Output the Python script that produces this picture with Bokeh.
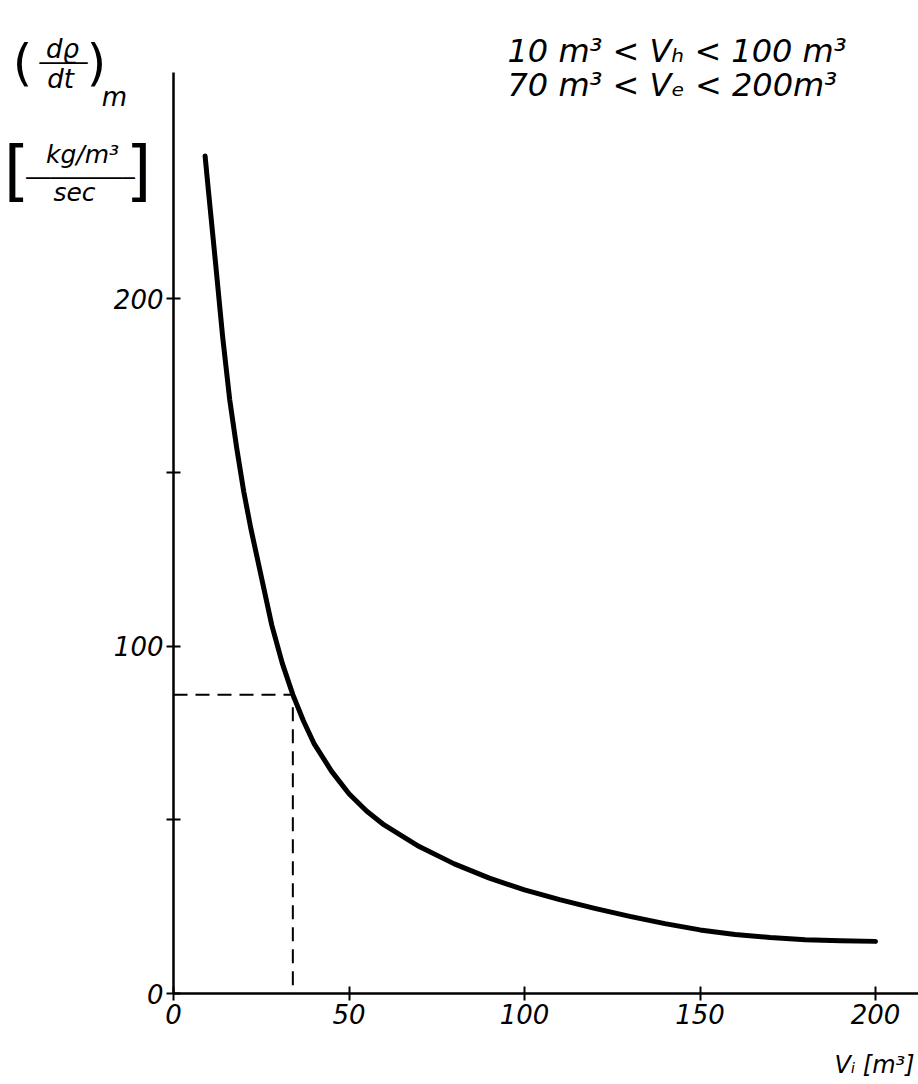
from bokeh.plotting import figure
from bokeh.models import Range1d, FixedTicker, Label, LinearAxis
from bokeh.embed import file_html
from bokeh.resources import INLINE

# ---- data ----
vi = [9, 10, 12, 14, 16, 18, 20, 22, 25, 28, 31, 34, 37, 40, 45, 50, 55, 60, 70, 80,
      90, 100, 110, 120, 130, 140, 150, 160, 170, 180, 190, 200]
drho = [241, 230.5, 210, 189, 171, 157, 144.5, 134, 120, 106, 95, 86, 78.5, 72, 64, 57.5,
        52.5, 48.5, 42.3, 37.3, 33.2, 29.8, 27, 24.5, 22.2, 20.1, 18.3, 17, 16.1, 15.5,
        15.2, 15]
mark_x = 34
mark_y = 86
x_ticks = [0, 50, 100, 150, 200]
y_ticks = [0, 50, 100, 150, 200]
y_labels = {0: "0", 50: "", 100: "100", 150: "", 200: "200"}
x_axis_end = 212.3
y_axis_end = 265
cond1 = "10 m³ < Vₕ <  100 m³"
cond2 = "70 m³ < Vₑ <  200m³"
x_title = "Vᵢ   [m³]"

W, H = 918, 1084
OX, OY = 173, 993          # canvas pixel of the data origin
PX_X, PX_Y = 3.51, 3.475   # pixels per data unit
FONT = "DejaVu Sans"

p = figure(width=W, height=H, output_backend="svg", toolbar_location=None,
           x_range=Range1d(-OX / PX_X, (W - OX) / PX_X),
           y_range=Range1d(-(H - OY) / PX_Y, OY / PX_Y),
           min_border=0, x_axis_location=None, y_axis_location=None)
p.title.visible = False
p.outline_line_color = None
p.grid.visible = False
p.background_fill_color = "white"
p.border_fill_color = "white"

xax = LinearAxis(fixed_location=0, bounds=(0, x_axis_end))
yax = LinearAxis(fixed_location=0, bounds=(0, y_axis_end))
p.add_layout(xax, "below")
p.add_layout(yax, "left")

for ax in (xax, yax):
    ax.axis_line_width = 2.5
    ax.axis_line_color = "black"
    ax.major_tick_in = 7
    ax.major_tick_out = 7
    ax.major_tick_line_width = 2
    ax.minor_tick_line_color = None
    ax.major_label_text_font = FONT
    ax.major_label_text_font_style = "italic"
    ax.major_label_text_font_size = "26px"
    ax.major_label_text_color = "black"
    ax.major_label_standoff = 3

xax.ticker = FixedTicker(ticks=x_ticks)
yax.ticker = FixedTicker(ticks=y_ticks)
yax.major_label_overrides = {k: v for k, v in y_labels.items()}

# curve
p.line(vi, drho, line_width=5, line_color="black", line_cap="round", line_join="round")
# dashed guide lines
p.line([0, mark_x, mark_x], [mark_y, mark_y, 0], line_width=2, line_color="black",
       line_dash="14 8")


def canvas_label(text, cx, cy, size, style="italic", align="left", baseline="middle",
                 font=FONT):
    p.add_layout(Label(x=cx, y=cy, x_units="canvas", y_units="canvas",
                       text=text, text_font=font, text_font_style=style,
                       text_font_size=f"{size}px", text_color="black",
                       text_align=align, text_baseline=baseline))


# y-axis title: (dϱ/dt)_m  [kg/m³ / sec]
canvas_label("(", 22, 62, 50, style="normal", align="center")
canvas_label("dϱ", 62, 48, 26, align="center")
canvas_label("─" * 4, 63, 62, 20, style="normal", align="center", font="DejaVu Sans Mono")
canvas_label("dt", 60, 78, 26, align="center")
canvas_label(")", 96, 62, 50, style="normal", align="center")
canvas_label("m", 114, 96, 26, align="center")
canvas_label("[", 16, 170, 66, style="normal", align="center")
canvas_label("kg/m³", 82, 154, 25, align="center")
canvas_label("─" * 9, 80, 177, 20, style="normal", align="center", font="DejaVu Sans Mono")
canvas_label("sec", 74, 192, 25, align="center")
canvas_label("]", 138, 170, 66, style="normal", align="center")

# condition text
canvas_label(cond1, 507, 50, 32, baseline="alphabetic")
canvas_label(cond2, 507, 84, 32, baseline="alphabetic")

# x-axis title
canvas_label(x_title, 834, 1064, 24)

open("out.html", "w").write(file_html(p, INLINE))
